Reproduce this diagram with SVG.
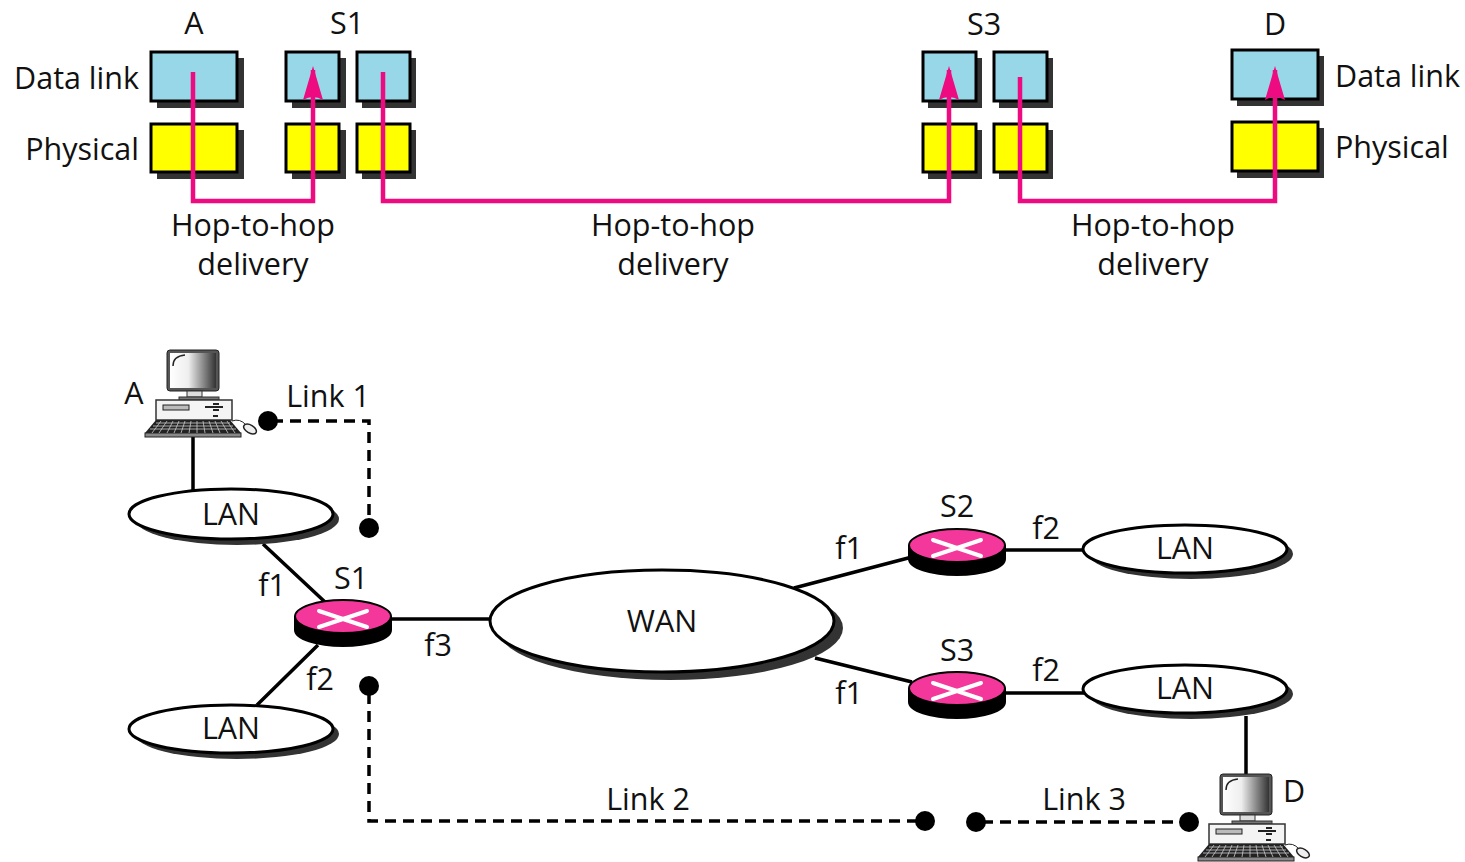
<svg xmlns="http://www.w3.org/2000/svg" width="1465" height="862" viewBox="0 0 1465 862">
<style>
text{font-family:"Open Sans","Noto Sans",sans-serif;font-size:30.5px;fill:#111;text-anchor:middle}
.st{text-anchor:start}.en{text-anchor:end}
.bx{stroke:#000;stroke-width:3}
.sh{fill:#333}
.blue{fill:#98d7e8}.yel{fill:#ffff00}
.hop{fill:none;stroke:#ee0a80;stroke-width:4.5}
.ln{fill:none;stroke:#000;stroke-width:3.5}
.dash{fill:none;stroke:#000;stroke-width:3.5;stroke-dasharray:11 7}
.el{fill:#fff;stroke:#000;stroke-width:3}
.elsh{fill:#333}
.dot{fill:#000}
.x{stroke:#fff;stroke-width:4;stroke-linecap:round}
</style>
<defs>
<marker id="ah" markerUnits="userSpaceOnUse" markerWidth="34" markerHeight="20" refX="30" refY="10" orient="auto" viewBox="0 0 34 20"><path d="M34 10L0 0Q6 10 0 20Z" fill="#ee0a80"/></marker>
<linearGradient id="scr"><stop offset="0" stop-color="#fff"/><stop offset=".4" stop-color="#eee"/><stop offset="1" stop-color="#333"/></linearGradient>
<g id="pc">
<rect x="22" y="0" width="52" height="41" rx="3" fill="#555" stroke="#222" stroke-width="1"/>
<rect x="25" y="3" width="46" height="35" fill="url(#scr)"/>
<path d="M28 16Q28 6 40 5" fill="none" stroke="#222" stroke-width="1.5"/>
<rect x="42" y="41" width="15" height="6" fill="#ddd" stroke="#333"/>
<rect x="34" y="47" width="40" height="3" fill="#777" stroke="#333"/>
<rect x="11" y="50" width="76" height="20" fill="#f4f4f4" stroke="#333" stroke-width="1.5"/>
<rect x="18" y="55" width="26" height="5" fill="#bbb" stroke="#222"/>
<path d="M60 57H78M68 54H74M68 60H74" stroke="#222" stroke-width="2"/>
<rect x="68" y="65" width="5" height="2" fill="#222"/>
<path d="M11 70L0 83H96L85 70Z" fill="#222"/>
<rect x="0" y="83" width="96" height="4" fill="#888" stroke="#222"/>
<path d="M11 73H85M8 76H88M5 79H91" stroke="#ccc" stroke-width=".8"/>
<path d="M16 71L7 83M22 71L14 83M28 71L22 83M34 71L29 83M40 71L36 83M46 71L44 83M52 71L52 83M58 71L60 83M64 71L68 83M70 71L75 83M76 71L83 83M82 71L90 83" stroke="#ccc" stroke-width=".8"/>
<path d="M87 71Q95 68 101 75" fill="none" stroke="#222"/>
<ellipse cx="105" cy="79" rx="7" ry="4" fill="#eee" stroke="#222" stroke-width="1.5" transform="rotate(30 105 79)"/>
</g>
<g id="rtr">
<path d="M-48 -1V12A48 16 0 0 0 48 12V-1Z" fill="#000" stroke="#000" stroke-width="2"/>
<ellipse cy="-1.5" rx="48" ry="16.5" fill="#f4379b" stroke="#000" stroke-width="2"/>
<path class="x" d="M-24 -7L24 9M-24 9L24 -7"/>
</g>
</defs>

<g id="connectors-net">
<path class="ln" d="M193 437V490M263 544L325 602M318 645L257 705M390 619H492M794 588L912 557M815 658L912 682M1005 550H1084M1005 693H1084M1246 716V775"/>
<path class="dash" d="M272 421H369V520"/>
<path class="dash" d="M369 693V821H918"/>
<path class="dash" d="M982 822H1183"/>
</g>

<g id="box-a-dl"><rect class="sh" x="157" y="58" width="87" height="50"/><rect class="bx blue" x="151" y="52" width="86" height="49"/></g>
<g id="box-a-ph"><rect class="sh" x="157" y="130" width="87" height="49"/><rect class="bx yel" x="151" y="124" width="86" height="48"/></g>
<g id="box-s1a-dl"><rect class="sh" x="292" y="58" width="54" height="50"/><rect class="bx blue" x="286" y="52" width="53" height="49"/></g>
<g id="box-s1a-ph"><rect class="sh" x="292" y="130" width="54" height="49"/><rect class="bx yel" x="286" y="124" width="53" height="48"/></g>
<g id="box-s1b-dl"><rect class="sh" x="362" y="58" width="54" height="50"/><rect class="bx blue" x="357" y="52" width="53" height="49"/></g>
<g id="box-s1b-ph"><rect class="sh" x="362" y="130" width="54" height="49"/><rect class="bx yel" x="357" y="124" width="53" height="48"/></g>
<g id="box-s3a-dl"><rect class="sh" x="928" y="58" width="54" height="50"/><rect class="bx blue" x="923" y="52" width="53" height="49"/></g>
<g id="box-s3a-ph"><rect class="sh" x="928" y="130" width="54" height="49"/><rect class="bx yel" x="923" y="124" width="53" height="48"/></g>
<g id="box-s3b-dl"><rect class="sh" x="999" y="58" width="54" height="50"/><rect class="bx blue" x="994" y="52" width="53" height="49"/></g>
<g id="box-s3b-ph"><rect class="sh" x="999" y="130" width="54" height="49"/><rect class="bx yel" x="994" y="124" width="53" height="48"/></g>
<g id="box-d-dl"><rect class="sh" x="1237" y="56" width="87" height="50"/><rect class="bx blue" x="1232" y="50" width="86" height="49"/></g>
<g id="box-d-ph"><rect class="sh" x="1237" y="128" width="87" height="50"/><rect class="bx yel" x="1232" y="122" width="86" height="49"/></g>

<g id="connectors-hop">
<path class="hop" d="M193 72V201H313V70" marker-end="url(#ah)"/>
<path class="hop" d="M383 72V201H949V70" marker-end="url(#ah)"/>
<path class="hop" d="M1020 77V201H1275V70" marker-end="url(#ah)"/>
</g>

<g id="labels-top">
<text x="194" y="34">A</text><text x="347" y="34">S1</text><text x="984" y="35">S3</text><text x="1275" y="35">D</text>
<text class="en" x="139" y="89">Data link</text><text class="en" x="139" y="160">Physical</text>
<text class="st" x="1335" y="87">Data link</text><text class="st" x="1335" y="158">Physical</text>
<text x="253" y="236">Hop-to-hop</text><text x="253" y="275">delivery</text>
<text x="673" y="236">Hop-to-hop</text><text x="673" y="275">delivery</text>
<text x="1153" y="236">Hop-to-hop</text><text x="1153" y="275">delivery</text>
</g>

<g id="pc-a"><use href="#pc" x="145" y="350"/><text x="134" y="404">A</text></g>
<g id="pc-d"><use href="#pc" x="1198" y="774"/><text x="1294" y="802">D</text></g>
<g id="lan-1"><ellipse class="elsh" cx="237" cy="519" rx="102" ry="26"/><ellipse class="el" cx="231" cy="514" rx="102" ry="25"/><text x="231" y="525">LAN</text></g>
<g id="lan-2"><ellipse class="elsh" cx="237" cy="734" rx="102" ry="25"/><ellipse class="el" cx="231" cy="729" rx="102" ry="24"/><text x="231" y="739">LAN</text></g>
<g id="lan-3"><ellipse class="elsh" cx="1191" cy="554" rx="102" ry="25"/><ellipse class="el" cx="1185" cy="549" rx="102" ry="24"/><text x="1185" y="559">LAN</text></g>
<g id="lan-4"><ellipse class="elsh" cx="1191" cy="694" rx="102" ry="25"/><ellipse class="el" cx="1185" cy="689" rx="102" ry="24"/><text x="1185" y="699">LAN</text></g>
<g id="wan"><ellipse class="elsh" cx="670" cy="628" rx="173" ry="52"/><ellipse class="el" cx="662" cy="621" rx="172" ry="51"/><text x="662" y="632">WAN</text></g>
<g id="s1"><use href="#rtr" x="343" y="618"/><text x="351" y="589">S1</text></g>
<g id="s2"><use href="#rtr" x="957" y="547"/><text x="957" y="517">S2</text></g>
<g id="s3"><use href="#rtr" x="957" y="690"/><text x="957" y="661">S3</text></g>

<g id="dots">
<circle class="dot" cx="268" cy="421" r="10"/><circle class="dot" cx="369" cy="528" r="10"/><circle class="dot" cx="369" cy="686" r="10"/><circle class="dot" cx="925" cy="821" r="10"/><circle class="dot" cx="976" cy="822" r="10"/><circle class="dot" cx="1189" cy="822" r="10"/>
</g>

<g id="labels-net">
<text x="328" y="407">Link 1</text><text x="648" y="810">Link 2</text><text x="1084" y="810">Link 3</text>
<text x="272" y="596">f1</text><text x="320" y="690">f2</text><text x="438" y="656">f3</text>
<text x="849" y="559">f1</text><text x="849" y="704">f1</text><text x="1046" y="539">f2</text><text x="1046" y="681">f2</text>
</g>
</svg>
